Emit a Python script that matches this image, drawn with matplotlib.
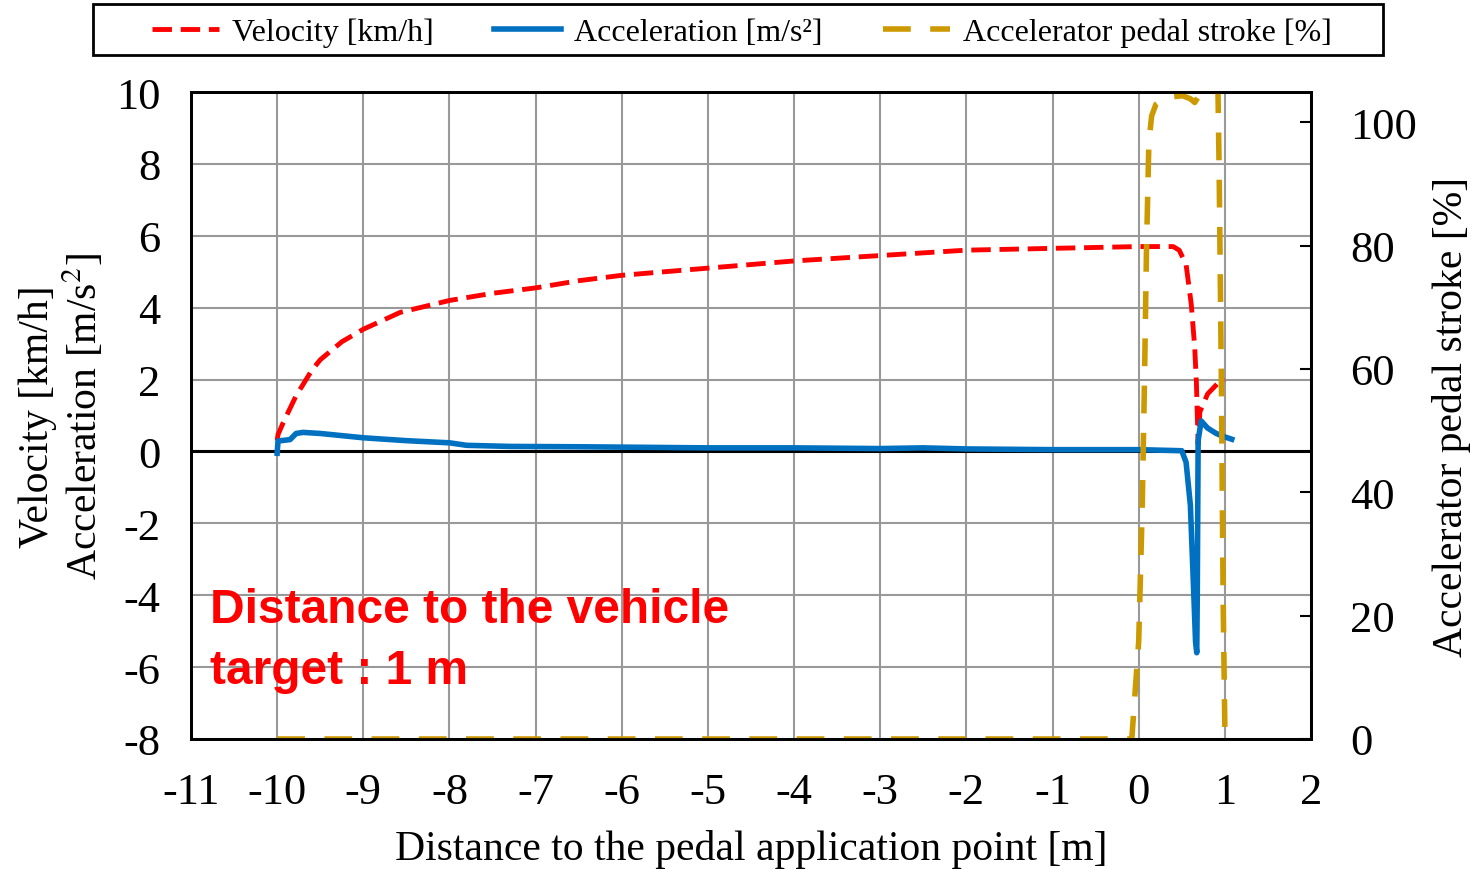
import matplotlib
matplotlib.use('Agg')
import matplotlib.pyplot as plt
from matplotlib.patches import Rectangle
import numpy as np

plt.rcParams['font.family'] = ['Liberation Serif', 'DejaVu Serif']
plt.rcParams['mathtext.fontset'] = 'stix'
plt.rcParams['axes.unicode_minus'] = False

# velocity [km/h]
vel_x = [-10, -9.99, -9.93, -9.86, -9.78, -9.7, -9.6, -9.5, -9.25, -9, -8.57, -8, -7.5, -7,
         -6.5, -6, -5, -4, -3, -2, -1, 0, 0.4, 0.47, 0.55, 0.61, 0.65, 0.67, 0.69, 0.71, 0.8,
         0.92, 1.0]
vel = [0.3, 0.47, 0.8, 1.15, 1.55, 1.86, 2.25, 2.55, 3.05, 3.4, 3.87, 4.2, 4.4, 4.55,
       4.75, 4.9, 5.1, 5.3, 5.45, 5.6, 5.65, 5.7, 5.7, 5.6, 5.2, 4.1, 2.9, 1.9, 0.2, 1.1, 1.6,
       1.9, 2.0]

# acceleration [m/s2]
acc_x = [-10, -9.99, -9.85, -9.78, -9.7, -9.5, -9.0, -8.5, -8.0, -7.8, -7.3, -6.5, -6, -5, -4,
         -3, -2.5, -2, -1, 0, 0.5, 0.55, 0.6, 0.64, 0.66, 0.674, 0.68, 0.69, 0.725, 0.8, 0.9,
         0.98, 1.08]
acc = [-0.05, 0.29, 0.33, 0.5, 0.53, 0.5, 0.38, 0.3, 0.24, 0.17, 0.14, 0.13, 0.12, 0.1, 0.1,
       0.08, 0.1, 0.07, 0.05, 0.05, 0.02, -0.3, -1.5, -4.0, -5.3, -5.6, -4.0, 0.3, 0.85, 0.65,
       0.5, 0.42, 0.34]

# accelerator pedal stroke [%]
ped_x = [-10, -0.08, 0.0, 0.04, 0.067, 0.09, 0.118, 0.15, 0.2, 0.31, 0.51, 0.6, 0.65, 0.7,
         0.86, 0.92, 0.933, 0.96, 0.98, 1.0, 1.02, 1.08]
ped = [0, 0, 15.8, 36.9, 57.9, 79, 96.6, 101, 102.9, 104, 104.3, 103.8, 103.2, 104.3,
       105.5, 105.3, 93, 58, 22.8, 1.8, 0, 0]

fig = plt.figure(figsize=(14.71, 8.7), dpi=100)
ax = fig.add_axes([191 / 1471, 130 / 870, 1120 / 1471, 647 / 870])
ax2 = ax.twinx()

l1, = ax.plot(vel_x, vel, color='#ff0000', linewidth=3.5, dashes=(4, 1.8), zorder=3)
l2, = ax.plot(acc_x, acc, color='#0070c0', linewidth=4, zorder=3)
ax.axhline(0, color='black', linewidth=2.2, zorder=2)
l3, = ax2.plot(ped_x, ped, color='#cc9900', linewidth=4, dashes=(5, 3.5))

ax.set_xlim(-11, 2)
ax.set_ylim(-8, 10)
ax2.set_ylim(0, 104.9)
ax.set_xticks(np.arange(-11, 3, 1))
ax.set_yticks(np.arange(-8, 11, 2))
ax2.set_yticks(np.arange(0, 101, 20))
ax.grid(True, color='#999999', linewidth=1.5, zorder=0)
ax.set_axisbelow(True)

ax.tick_params(axis='both', length=0, labelsize=32, pad=22)
ax.tick_params(axis='x', pad=24)
ax2.tick_params(axis='y', direction='in', length=8, width=1.5, labelsize=32, pad=28)
for a in (ax, ax2):
    for s in a.spines.values():
        s.set_linewidth(2)
        s.set_color('black')

ax.set_xlabel('Distance to the pedal application point [m]', fontsize=30, labelpad=12)
ax.set_ylabel('Velocity [km/h]\nAcceleration [m/s$^2$]', fontsize=30, labelpad=7,
              linespacing=1.12)
ax2.set_ylabel('Accelerator pedal stroke [%]', fontsize=30, labelpad=11)

ax.text(0.017, 0.235, 'Distance to the vehicle\ntarget : 1 m', transform=ax.transAxes,
        fontsize=34.5, fontweight='bold', color='#ff0000', family='Liberation Sans',
        va='top', ha='left', linespacing=1.45, zorder=5)

fig.patches.append(Rectangle((93 / 1471, 814 / 870), 1290 / 1471, 51 / 870,
                             transform=fig.transFigure, fill=False, edgecolor='black',
                             linewidth=2))
fig.legend([l1, l2, l3], ['Velocity [km/h]', 'Acceleration [m/s²]',
                          'Accelerator pedal stroke [%]'],
           loc='center', ncol=3, bbox_to_anchor=(742 / 1471, 836.5 / 870),
           fontsize=23, frameon=False, handlelength=2.1, handletextpad=0.4,
           columnspacing=1.9, borderaxespad=0, borderpad=0)

fig.savefig('out.png', dpi=100)
